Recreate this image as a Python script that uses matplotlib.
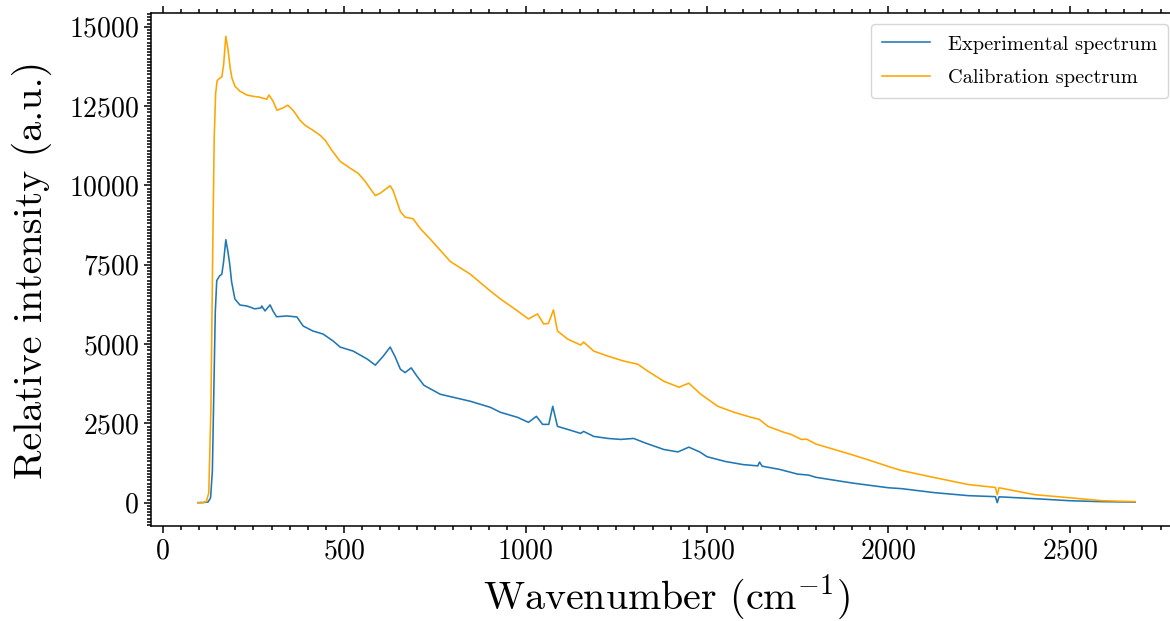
import matplotlib
matplotlib.use("Agg")
import matplotlib.pyplot as plt
from matplotlib.ticker import MultipleLocator

plt.rcParams["font.family"] = "serif"
plt.rcParams["font.serif"] = ["cmr10"]
plt.rcParams["mathtext.fontset"] = "cm"
plt.rcParams["axes.formatter.use_mathtext"] = True
plt.rcParams["axes.unicode_minus"] = False

# Calibration spectrum (wavenumber in cm^-1, relative intensity)
cal_wn = [97, 110, 120, 127, 133, 138, 142, 146, 150, 157, 163, 168, 174, 180,
          186, 191, 199, 213, 232, 249, 268, 276, 287, 293, 304, 315, 331, 345,
          359, 365, 378, 392, 414, 434, 448, 466, 489, 517, 539, 558, 572, 586,
          599, 613, 627, 635, 655, 668, 690, 710, 738, 793, 848, 900, 931, 978,
          1008, 1033, 1050, 1063, 1077, 1088, 1116, 1152, 1160, 1188, 1227,
          1271, 1309, 1337, 1381, 1423, 1450, 1483, 1530, 1575, 1622, 1644,
          1668, 1713, 1732, 1760, 1775, 1800, 1850, 1900, 1950, 2000, 2036,
          2127, 2221, 2295, 2300, 2305, 2403, 2497, 2588, 2680]
cal_int = [0, 5, 30, 300, 3000, 8000, 11500, 12900, 13300, 13380, 13420, 13800,
           14700, 14300, 13700, 13380, 13130, 12970, 12850, 12810, 12780, 12750,
           12720, 12850, 12660, 12370, 12440, 12530, 12370, 12280, 12060, 11900,
           11740, 11580, 11420, 11110, 10760, 10540, 10380, 10130, 9900, 9680,
           9750, 9870, 9990, 9840, 9180, 9000, 8950, 8640, 8300, 7600, 7200,
           6700, 6420, 6044, 5791, 5949, 5633, 5650, 6076, 5411, 5158, 4968,
           5063, 4778, 4620, 4462, 4367, 4146, 3829, 3639, 3766, 3418, 3038,
           2848, 2690, 2627, 2405, 2215, 2152, 1994, 2000, 1850, 1680, 1510,
           1330, 1140, 1013, 791, 570, 480, 250, 470, 253, 158, 63, 32]

# Experimental spectrum
exp_wn = [97, 110, 125, 132, 137, 141, 145, 149, 157, 163, 168, 174, 180, 185,
          190, 199, 213, 232, 254, 271, 273, 282, 296, 304, 314, 342, 370, 387,
          414, 442, 470, 489, 525, 564, 586, 608, 627, 641, 655, 668, 685, 700,
          720, 765, 848, 903, 931, 978, 1008, 1030, 1047, 1064, 1075, 1088,
          1116, 1152, 1160, 1188, 1227, 1262, 1298, 1326, 1365, 1381, 1420,
          1450, 1480, 1500, 1550, 1600, 1640, 1645, 1652, 1700, 1750, 1780,
          1800, 1900, 2000, 2036, 2127, 2221, 2295, 2300, 2305, 2403, 2497,
          2588, 2680]
exp_int = [0, 3, 20, 150, 1000, 3500, 6000, 7000, 7150, 7200, 7600, 8290, 7900,
           7500, 6960, 6420, 6230, 6200, 6110, 6140, 6200, 6044, 6234, 6044,
           5860, 5886, 5854, 5570, 5411, 5316, 5095, 4905, 4778, 4525, 4335,
           4620, 4905, 4589, 4209, 4100, 4250, 4000, 3700, 3418, 3196, 3006,
           2848, 2690, 2532, 2722, 2468, 2468, 3038, 2405, 2310, 2184, 2247,
           2089, 2025, 1994, 2025, 1899, 1741, 1677, 1600, 1750, 1600, 1450,
           1300, 1200, 1160, 1280, 1150, 1050, 900, 870, 800, 620, 470, 443,
           316, 221, 190, 0, 185, 127, 63, 32, 20]

fig = plt.figure(figsize=(11.7, 6.21), dpi=100)
ax = fig.add_axes([151 / 1170, 95 / 621, (1182 - 151) / 1170, 513 / 621])

ax.plot(exp_wn, exp_int, color="#1f77b4", lw=1.15, label="Experimental spectrum")
ax.plot(cal_wn, cal_int, color="orange", lw=1.15, label="Calibration spectrum")

ax.set_xlabel(r"Wavenumber (cm$^{-1}$)", fontsize=28.8, labelpad=6)
ax.set_ylabel("Relative intensity (a.u.)", fontsize=28.8, labelpad=12)

ax.xaxis.set_major_locator(MultipleLocator(500))
ax.xaxis.set_minor_locator(MultipleLocator(50))
ax.yaxis.set_major_locator(MultipleLocator(2500))
ax.yaxis.set_minor_locator(MultipleLocator(100))
ax.tick_params(axis="both", which="both", direction="out", labelsize=20,
               width=1.1, top=True, right=False)
ax.tick_params(which="major", length=5)
ax.tick_params(which="minor", length=3)
for sp in ax.spines.values():
    sp.set_linewidth(1.1)

ax.legend(loc="upper right", bbox_to_anchor=(1168 / 1170, 597 / 621),
          bbox_transform=fig.transFigure, borderaxespad=0, fontsize=14.7,
          labelspacing=0.75, borderpad=0.55, handlelength=2.35,
          handletextpad=0.85)

fig.savefig("out.png", dpi=100)
